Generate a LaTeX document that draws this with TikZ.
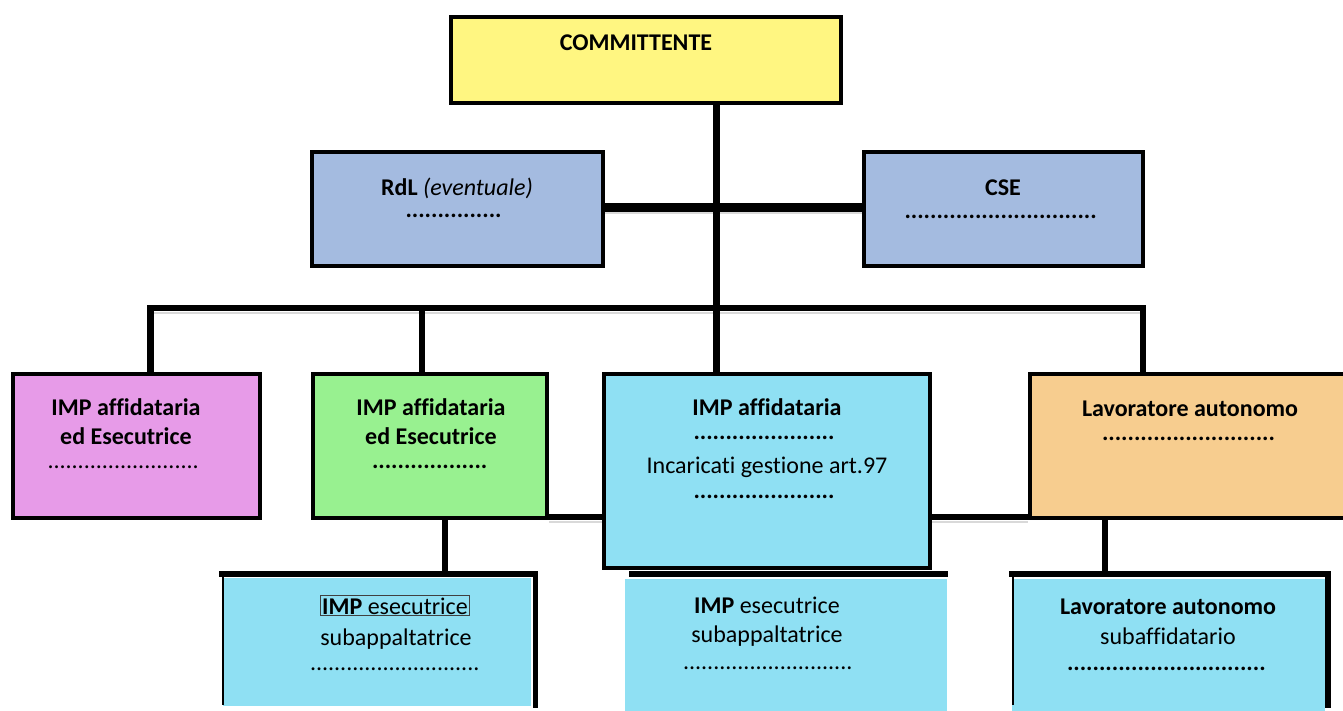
\documentclass[tikz,border=0pt]{standalone}
\usepackage{fontspec}
\setmainfont{Carlito}[Ligatures=NoCommon]
\definecolor{cyel}{HTML}{FFF681}
\definecolor{cblu}{HTML}{A4BBE0}
\definecolor{cpnk}{HTML}{E79BE8}
\definecolor{cgrn}{HTML}{98F190}
\definecolor{ccyn}{HTML}{8FE0F3}
\definecolor{corg}{HTML}{F7CD8F}
\newcommand\dotrow[1]{\hbox to #1pt{\leaders\hbox{.}\hfill}}
\begin{document}
\begin{tikzpicture}[x=1pt,y=-1pt,
  box/.style={draw=black, line width=4pt, inner sep=0pt},
  fillbox/.style={inner sep=0pt, draw=none},
  conn/.style={line width=6.5pt, line join=miter},
  rim/.style={line width=5.5pt, line cap=rect},
  thinrim/.style={line width=1.5pt},
  shade/.style={draw=gray!30, line width=2pt},
  txt/.style={font=\fontsize{24}{29}\selectfont, inner sep=0pt, anchor=base},
  btxt/.style={txt, font=\fontsize{24}{29}\selectfont\bfseries}]
\useasboundingbox (0,0) rectangle (1343,711);

% boxes
\node[box, fill=cyel, minimum width=390pt, minimum height=86pt] (comm) at (646,60.5) {};
\node[box, fill=cblu, minimum width=291pt, minimum height=114pt] (rdl) at (457.5,209) {};
\node[box, fill=cblu, minimum width=279pt, minimum height=114pt] (cse) at (1003.5,209) {};
\node[box, fill=cpnk, minimum width=247pt, minimum height=144pt] (pink) at (136.5,446) {};
\node[box, fill=cgrn, minimum width=234pt, minimum height=144pt] (green) at (430,446) {};
\node[box, fill=ccyn, minimum width=326pt, minimum height=194pt] (cent) at (767,471) {};
\node[box, fill=corg, minimum width=315pt, minimum height=144pt] (orng) at (1187.5,446) {};

% bottom boxes (fill)
\node[fillbox, fill=ccyn, minimum width=308pt, minimum height=128pt] (b1) at (377,642) {};
\node[fillbox, fill=ccyn, minimum width=322pt, minimum height=132pt] (b2) at (786,645) {};
\node[fillbox, fill=ccyn, minimum width=313pt, minimum height=132pt] (b3) at (1168.5,645) {};

% bottom box rims
\draw[thinrim] (222.75,574) -- (222.75,705);
\draw[rim] (222,574) -- (535.5,574) -- (535.5,705);
\draw[rim] (632,574) -- (945,574);
\draw[thinrim] (1012.75,574) -- (1012.75,705);
\draw[rim] (1012,574) -- (1328,574) -- (1328,705);

% junction coordinates
\coordinate (tx) at (716.5,208);
\coordinate (busL) at (150.5,308);
\coordinate (busR) at (1143,308);
\coordinate (gx) at (422,308);
\coordinate (lowy) at (0,517);
\coordinate (b1x) at (445,574);
\coordinate (b3x) at (1105,574);

% shadows of connectors
\draw[shade] ([yshift=-5pt]rdl.east |- tx) -- ([yshift=-5pt]cse.west |- tx);
\draw[shade] ([yshift=-4.5pt,xshift=3pt]busL) -- ([yshift=-4.5pt]busR);
\draw[shade] ([yshift=-4.5pt]green.east |- lowy) -- ([yshift=-4.5pt]cent.west |- lowy);
\draw[shade] ([yshift=-4.5pt]cent.east |- lowy) -- ([yshift=-4.5pt]orng.west |- lowy);

% connectors
\draw[conn] (comm.south -| tx) -- (cent.north -| tx);
\draw[line width=9pt] (rdl.east |- tx) -- (cse.west |- tx);
\draw[conn] (pink.north -| busL) -- (busL) -- (busR) -- (orng.north -| busR);
\draw[conn] (gx) -- (green.north -| gx);
\draw[conn] (green.east |- lowy) -- (cent.west |- lowy);
\draw[conn] (cent.east |- lowy) -- (orng.west |- lowy);
\draw[conn] (green.south -| b1x) -- (b1x);
\draw[conn] (orng.south -| b3x) -- (b3x);

% texts
\node[btxt] (t-comm) at (636,51) {COMMITTENTE};
\node[txt] (t-rdl) at (457,196) {\textbf{RdL} \textit{(eventuale)}};
\node[btxt] (d-rdl) at (456,218) {\dotrow{101}};
\node[btxt] (t-cse) at (1003,196) {CSE};
\node[btxt] (d-cse) at (1003,219) {\dotrow{197}};

\node[btxt] (t-p1) at (126,415) {IMP affidataria};
\node[btxt] (t-p2) at (126,444) {ed Esecutrice};
\node[txt] (d-p) at (124,468) {\dotrow{153}};

\node[btxt] (t-g1) at (431,415) {IMP affidataria};
\node[btxt] (t-g2) at (431,444) {ed Esecutrice};
\node[btxt] (d-g) at (431,468) {\dotrow{118}};

\node[btxt] (t-c1) at (767,415) {IMP affidataria};
\node[btxt] (d-c1) at (767,439) {\dotrow{147}};
\node[txt] (t-c2) at (767,473) {Incaricati gestione art.97};
\node[btxt] (d-c2) at (767,498) {\dotrow{147}};

\node[btxt] (t-o1) at (1190,416) {Lavoratore autonomo};
\node[btxt] (d-o) at (1190,440) {\dotrow{176}};

\node[txt, draw=black!75, line width=1pt, inner sep=1.5pt] (t-b1a) at (395,614) {\textbf{IMP} esecutrice};
\node[txt] (t-b1b) at (396,645) {subappaltatrice};
\node[txt] (d-b1) at (395,670) {\dotrow{170}};

\node[txt] (t-b2a) at (767,613) {\textbf{IMP} esecutrice};
\node[txt] (t-b2b) at (767,642) {subappaltatrice};
\node[txt] (d-b2) at (768,669) {\dotrow{170}};

\node[btxt] (t-b3a) at (1168,614) {Lavoratore autonomo};
\node[txt] (t-b3b) at (1168,644) {subaffidatario};
\node[btxt] (d-b3) at (1168,670) {\dotrow{202}};
\end{tikzpicture}
\end{document}
